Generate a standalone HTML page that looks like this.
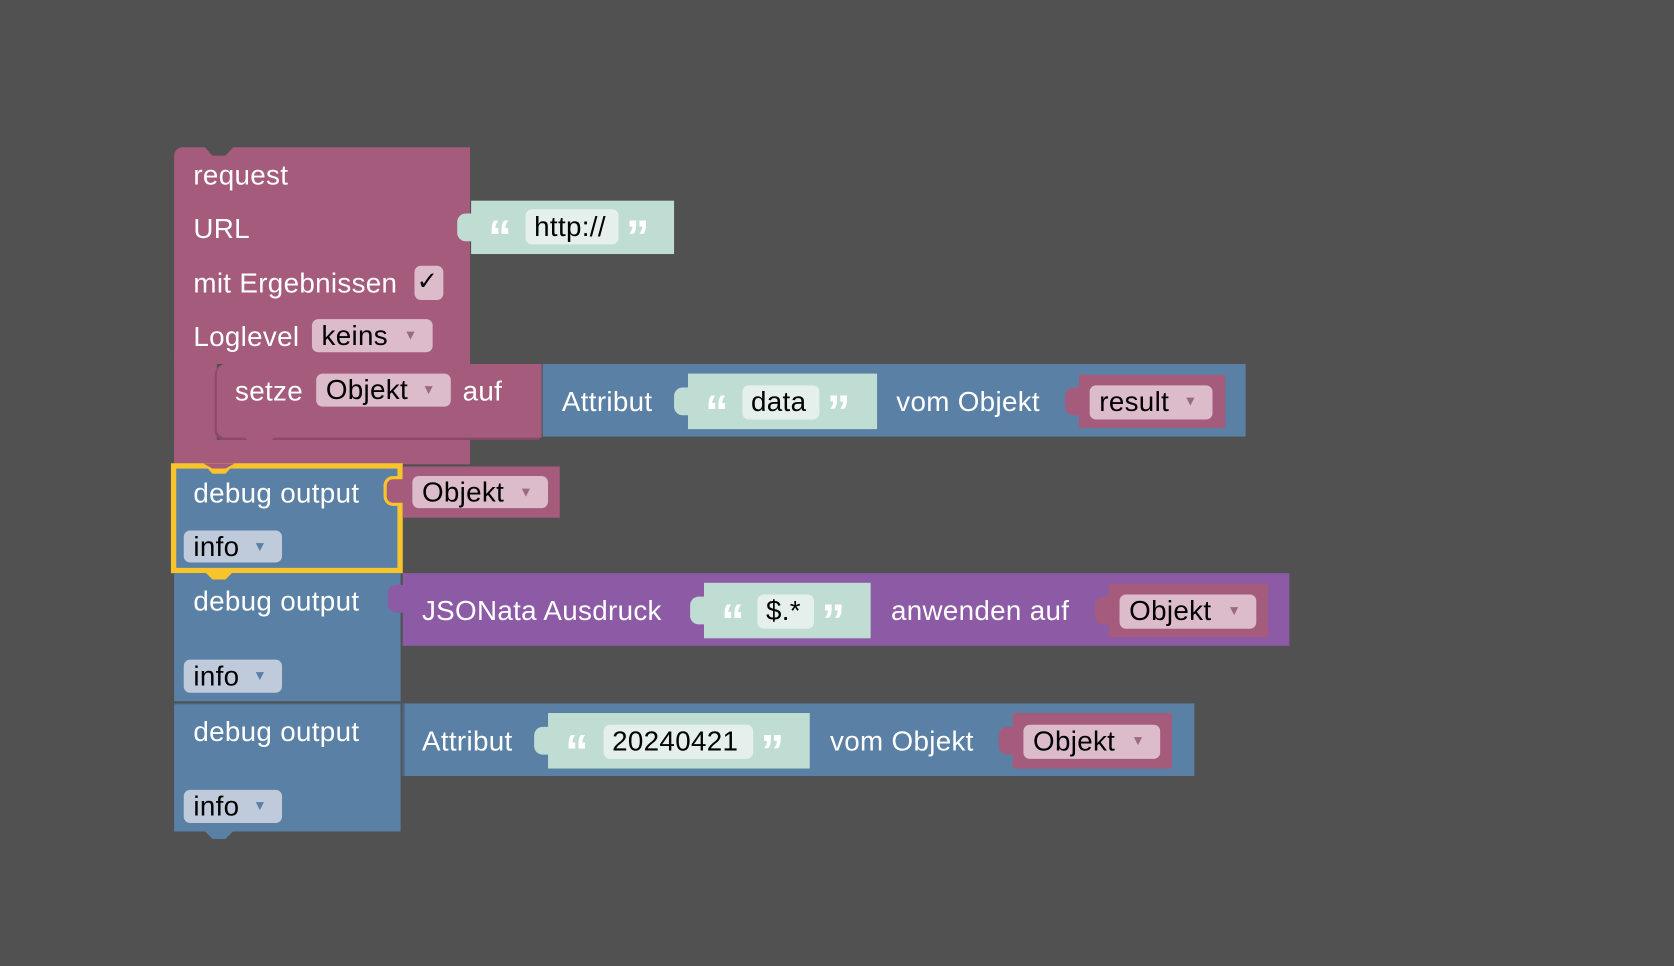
<!DOCTYPE html>
<html><head><meta charset="utf-8"><style>
html,body{margin:0;padding:0;background:#515151;width:1674px;height:966px;overflow:hidden}
#c{position:absolute;left:0;top:0;width:1567px;height:905px;transform-origin:0 0;transform:scale(1.06828,1.0674);font-family:"Liberation Sans",Arial,sans-serif}
.b{position:absolute}
.t{position:absolute;color:#fff;font-size:26px;line-height:30px;white-space:nowrap;letter-spacing:0.3px}
.f{position:absolute;border-radius:6px;color:#000;font-size:26px;line-height:30px;white-space:nowrap;box-sizing:border-box;padding-left:9px;letter-spacing:0.3px}
.f .a{position:absolute;right:14px;top:0;font-size:13px;color:#9a6a82}
.pk{background:#a55b7c}
.bl{background:#5b80a5}
.pu{background:#8d5ba5}
.tl{background:#c0ddd3}
.fp{background:#dcbccb}
.fi{background:#bfcadb}
.fi .a{color:#5b80a5}
.fs{background:#e5f0ec;padding-left:8px}
.q{position:absolute;color:#fff;font-size:44px;font-weight:bold;font-family:"Liberation Sans",sans-serif;line-height:30px;top:0}
</style></head><body><div id="c">
<!-- request block -->
<div class="b pk" style="left:163px;top:138px;width:277px;height:203px;border-radius:8px 0 0 0"></div>
<div class="b" style="left:190px;top:136px;width:30px;height:10px;background:#515151;clip-path:polygon(0 0,100% 0,70% 100%,30% 100%)"></div>
<div class="b pk" style="left:163px;top:330px;width:40px;height:100px"></div>
<div class="b pk" style="left:163px;top:412px;width:277px;height:23px"></div>
<div class="t" style="left:181px;top:149px">request</div>
<div class="t" style="left:181px;top:199px">URL</div>
<div class="t" style="left:181px;top:250px">mit Ergebnissen</div>
<div class="f fp" style="left:388px;top:249px;width:27px;height:32px;padding-left:2px;font-size:24px">✓</div>
<div class="t" style="left:181px;top:300px">Loglevel</div>
<div class="f fp" style="left:292px;top:299px;width:113px;height:31px">keins<span class="a">▼</span></div>
<!-- url string -->
<div class="b tl" style="left:441px;top:188px;width:190px;height:50px"></div>
<div class="b tl" style="left:428px;top:200px;width:16px;height:26px;border-radius:8px 0 0 8px"></div>
<div class="q" style="left:457px;top:208px">“</div>
<div class="f fs" style="left:492px;top:196px;width:87px;height:33px;line-height:33px">http://</div>
<div class="q" style="left:586px;top:208px">”</div>
<!-- setze -->
<div class="b pk" style="left:203px;top:341px;width:304px;height:69px;border-radius:8px 0 0 8px;box-shadow:-2px 2px 0 #8c4a68"></div>
<div class="b pk" style="left:228px;top:409px;width:30px;height:8px;clip-path:polygon(0 0,100% 0,70% 100%,30% 100%)"></div>
<div class="t" style="left:220px;top:351px">setze</div>
<div class="f fp" style="left:296px;top:350px;width:126px;height:31px">Objekt<span class="a">▼</span></div>
<div class="t" style="left:433px;top:351px">auf</div>
<!-- attribut blue -->
<div class="b bl" style="left:508px;top:341px;width:658px;height:68px"></div>
<div class="t" style="left:526px;top:361px">Attribut</div>
<div class="b tl" style="left:644px;top:350px;width:177px;height:52px"></div>
<div class="b tl" style="left:631px;top:363px;width:16px;height:26px;border-radius:8px 0 0 8px"></div>
<div class="q" style="left:660px;top:372px">“</div>
<div class="f fs" style="left:695px;top:361px;width:72px;height:32px">data</div>
<div class="q" style="left:774px;top:372px">”</div>
<div class="t" style="left:839px;top:361px">vom Objekt</div>
<div class="b pk" style="left:1010px;top:351px;width:137px;height:50px"></div>
<div class="b pk" style="left:997px;top:363px;width:16px;height:26px;border-radius:8px 0 0 8px"></div>
<div class="f fp" style="left:1020px;top:361px;width:115px;height:32px">result<span class="a">▼</span></div>
<!-- debug1 -->
<div class="b" style="left:160px;top:434px;width:217px;height:103px;background:#f7c52b"></div>
<div class="b bl" style="left:165px;top:439px;width:207px;height:93px"></div>
<div class="b" style="left:190px;top:434px;width:30px;height:10px;background:#f7c52b;clip-path:polygon(0 0,100% 0,70% 100%,30% 100%)"></div>
<div class="b pk" style="left:190px;top:434px;width:30px;height:5px;clip-path:polygon(0 0,100% 0,70% 100%,30% 100%)"></div>
<div class="t" style="left:181px;top:447px">debug output</div>
<div class="f fi" style="left:172px;top:497px;width:92px;height:30px">info<span class="a">▼</span></div>
<div class="b pk" style="left:377px;top:437px;width:147px;height:48px"></div>
<div class="b" style="left:359px;top:446px;width:18px;height:28px;border:3px solid #f7c52b;border-right:none;border-radius:9px 0 0 9px;box-sizing:border-box;background:#a55b7c"></div>
<div class="f fp" style="left:386px;top:446px;width:127px;height:30px">Objekt<span class="a">▼</span></div>
<!-- debug2 -->
<div class="b bl" style="left:163px;top:537px;width:212px;height:120px"></div>
<div class="b" style="left:190px;top:534px;width:30px;height:9px;background:#f7c52b;clip-path:polygon(0 0,100% 0,70% 100%,30% 100%)"></div>
<div class="t" style="left:181px;top:548px">debug output</div>
<div class="f fi" style="left:172px;top:618px;width:92px;height:31px">info<span class="a">▼</span></div>
<div class="b pu" style="left:377px;top:537px;width:830px;height:68px"></div>
<div class="b pu" style="left:363px;top:548px;width:16px;height:26px;border-radius:8px 0 0 8px"></div>
<div class="t" style="left:395px;top:557px">JSONata Ausdruck</div>
<div class="b tl" style="left:659px;top:546px;width:156px;height:52px"></div>
<div class="b tl" style="left:646px;top:559px;width:16px;height:26px;border-radius:8px 0 0 8px"></div>
<div class="q" style="left:675px;top:568px">“</div>
<div class="f fs" style="left:709px;top:557px;width:53px;height:32px">$.*</div>
<div class="q" style="left:769px;top:568px">”</div>
<div class="t" style="left:834px;top:557px">anwenden auf</div>
<div class="b pk" style="left:1038px;top:547px;width:149px;height:50px"></div>
<div class="b pk" style="left:1025px;top:559px;width:16px;height:26px;border-radius:8px 0 0 8px"></div>
<div class="f fp" style="left:1048px;top:557px;width:128px;height:32px">Objekt<span class="a">▼</span></div>
<!-- debug3 -->
<div class="b bl" style="left:163px;top:659px;width:212px;height:119px;border-top:1px solid #4a6b8c"></div>
<div class="b bl" style="left:190px;top:777px;width:30px;height:9px;clip-path:polygon(0 0,100% 0,70% 100%,30% 100%)"></div>
<div class="t" style="left:181px;top:670px">debug output</div>
<div class="f fi" style="left:172px;top:740px;width:92px;height:31px">info<span class="a">▼</span></div>
<div class="b bl" style="left:377px;top:659px;width:739px;height:68px;border-left:2px solid #4a6b8c"></div>
<div class="t" style="left:395px;top:679px">Attribut</div>
<div class="b tl" style="left:513px;top:668px;width:245px;height:52px"></div>
<div class="b tl" style="left:500px;top:681px;width:16px;height:26px;border-radius:8px 0 0 8px"></div>
<div class="q" style="left:529px;top:690px">“</div>
<div class="f fs" style="left:565px;top:679px;width:140px;height:32px">20240421</div>
<div class="q" style="left:712px;top:690px">”</div>
<div class="t" style="left:777px;top:679px">vom Objekt</div>
<div class="b pk" style="left:948px;top:668px;width:149px;height:52px"></div>
<div class="b pk" style="left:935px;top:681px;width:16px;height:26px;border-radius:8px 0 0 8px"></div>
<div class="f fp" style="left:958px;top:679px;width:128px;height:32px">Objekt<span class="a">▼</span></div>
</div></body></html>
